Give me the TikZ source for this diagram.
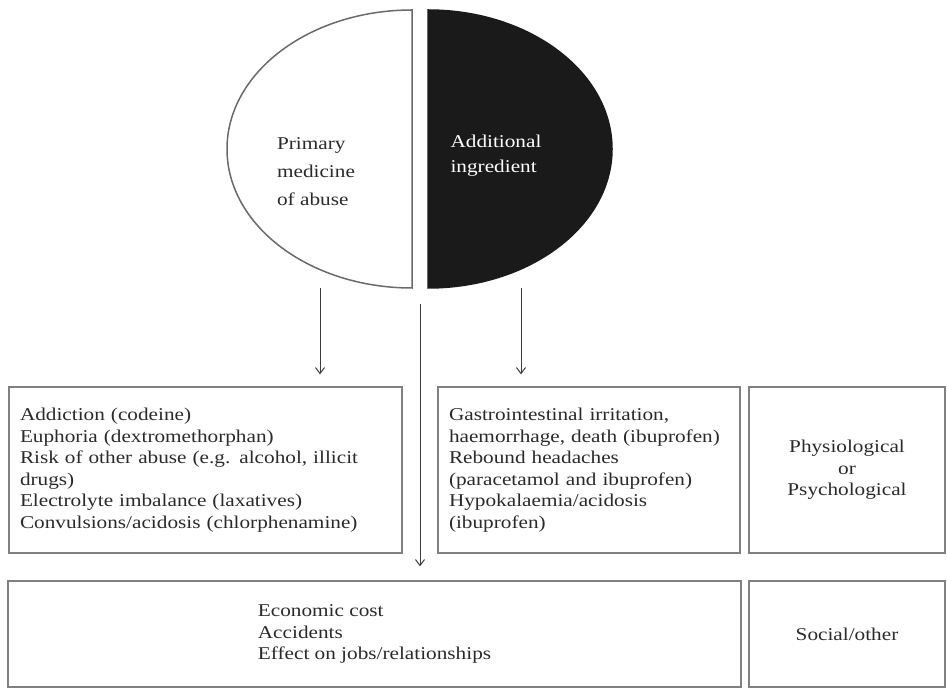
\documentclass[tikz,border=0pt]{standalone}
\usepackage{fontspec}
\setmainfont{Liberation Serif}[FakeStretch=1.18]
\usepackage{xcolor}
\definecolor{vizEdge}{HTML}{808080}
\definecolor{vizOval}{HTML}{6A6A6A}
\definecolor{vizArrow}{HTML}{3C3C3C}
\definecolor{vizDark}{HTML}{1A1A1A}
\definecolor{vizText}{HTML}{2A2A2A}
\usetikzlibrary{arrows.meta}

\begin{document}
\begin{tikzpicture}[x=1pt,y=1pt,
  effectbox/.style={draw=vizEdge, line width=1.3pt, text=vizText,
    font=\fontsize{18}{21.5}\selectfont},
  flow/.style={draw=vizArrow, line width=1pt, -{Straight Barb[length=6pt,width=9pt]}}]
  \useasboundingbox (0,0) rectangle (947,688);
  % the two halves of the oval
  \filldraw[fill=white, draw=vizOval, line width=1.5pt] (412,678) arc[start angle=90, end angle=270, x radius=185pt, y radius=139pt] -- cycle;
  \filldraw[fill=vizDark, draw=vizDark, line width=1.5pt] (428,678) arc[start angle=90, end angle=-90, x radius=184pt, y radius=139pt] -- cycle;
  \node[align=left, inner sep=0pt, text=vizText, font=\fontsize{18}{28}\selectfont] (primary) at (316,516) {Primary\\medicine\\of abuse};
  \node[align=left, inner sep=0pt, text=white, font=\fontsize{18}{25}\selectfont] (additional) at (496,532) {Additional\\ingredient};
  % effect boxes
  \node[effectbox, text width=371pt, inner xsep=11pt, minimum height=166pt, align=left] (lbox) at (205.5,218)
    {Addiction (codeine)\\Euphoria (dextromethorphan)\\Risk of other abuse (e.g. alcohol, illicit\\drugs)\\Electrolyte imbalance (laxatives)\\Convulsions/acidosis (chlorphenamine)};
  \node[effectbox, text width=280pt, inner xsep=11pt, minimum height=166pt, align=left] (mbox) at (589,218)
    {Gastrointestinal irritation,\\haemorrhage, death (ibuprofen)\\Rebound headaches\\(paracetamol and ibuprofen)\\Hypokalaemia/acidosis\\(ibuprofen)};
  \node[effectbox, text width=176pt, inner xsep=10pt, minimum height=166pt, align=center] (pbox) at (847,218)
    {Physiological\\or\\Psychological};
  \node[effectbox, minimum width=733pt, minimum height=106pt, align=left] (ebox) at (374.5,54)
    {Economic cost\\Accidents\\Effect on jobs/relationships};
  \node[effectbox, minimum width=196pt, minimum height=106pt] (sbox) at (847,54) {Social/other};
  % arrows
  \coordinate (primaryfoot) at (320,400);
  \coordinate (centrefoot) at (420,384);
  \coordinate (additionalfoot) at (521,400);
  \draw[flow, shorten >=12pt] (primaryfoot) -- (primaryfoot |- lbox.north);
  \draw[flow, shorten >=12pt] (additionalfoot) -- (additionalfoot |- mbox.north);
  \draw[flow, shorten >=14pt] (centrefoot) -- (centrefoot |- ebox.north);
\end{tikzpicture}
\end{document}
